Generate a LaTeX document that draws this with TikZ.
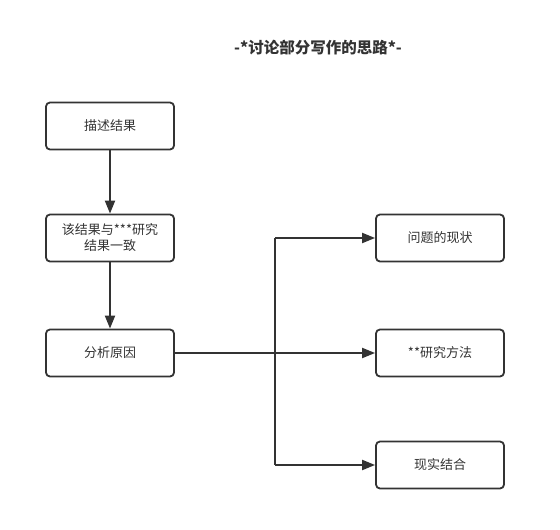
\documentclass[tikz,border=0pt]{standalone}
\usepackage{fontspec}
\setmainfont{Noto Sans CJK SC}
\usetikzlibrary{arrows.meta}
\definecolor{ink}{HTML}{333333}
\begin{document}
\begin{tikzpicture}[x=1pt,y=-1pt,
  box/.style={draw=ink,line width=1.8pt,rounded corners=4pt,minimum width=128pt,minimum height=47pt,inner sep=0pt,align=center,font=\fontsize{13}{16}\selectfont,text=ink},
  conn/.style={draw=ink,line width=2pt,-{Triangle[length=13pt,width=10pt]}},
  plain/.style={draw=ink,line width=2pt}]
\useasboundingbox (0,0) rectangle (560,530);
\node[font=\bfseries\fontsize{15.5}{18}\selectfont,text=ink] (title) at (318,48) {-*讨论部分写作的思路*-};
\node[box] (b1) at (110,126) {描述结果};
\node[box] (b2) at (110,238) {该结果与***研究\\结果一致};
\node[box] (b3) at (110,353) {分析原因};
\node[box] (m1) at (440,238) {问题的现状};
\node[box] (m2) at (440,353) {**研究方法};
\node[box] (m3) at (440,465) {现实结合};
\coordinate (j) at (275,353);
\draw[conn] (b1) -- (b2);
\draw[conn] (b2) -- (b3);
\draw[conn] (b3) -- (m2);
\draw[plain] (j |- m1) -- (j |- m3);
\draw[conn] (j |- m1) -- (m1.west);
\draw[conn] (j |- m3) -- (m3.west);
\end{tikzpicture}
\end{document}
